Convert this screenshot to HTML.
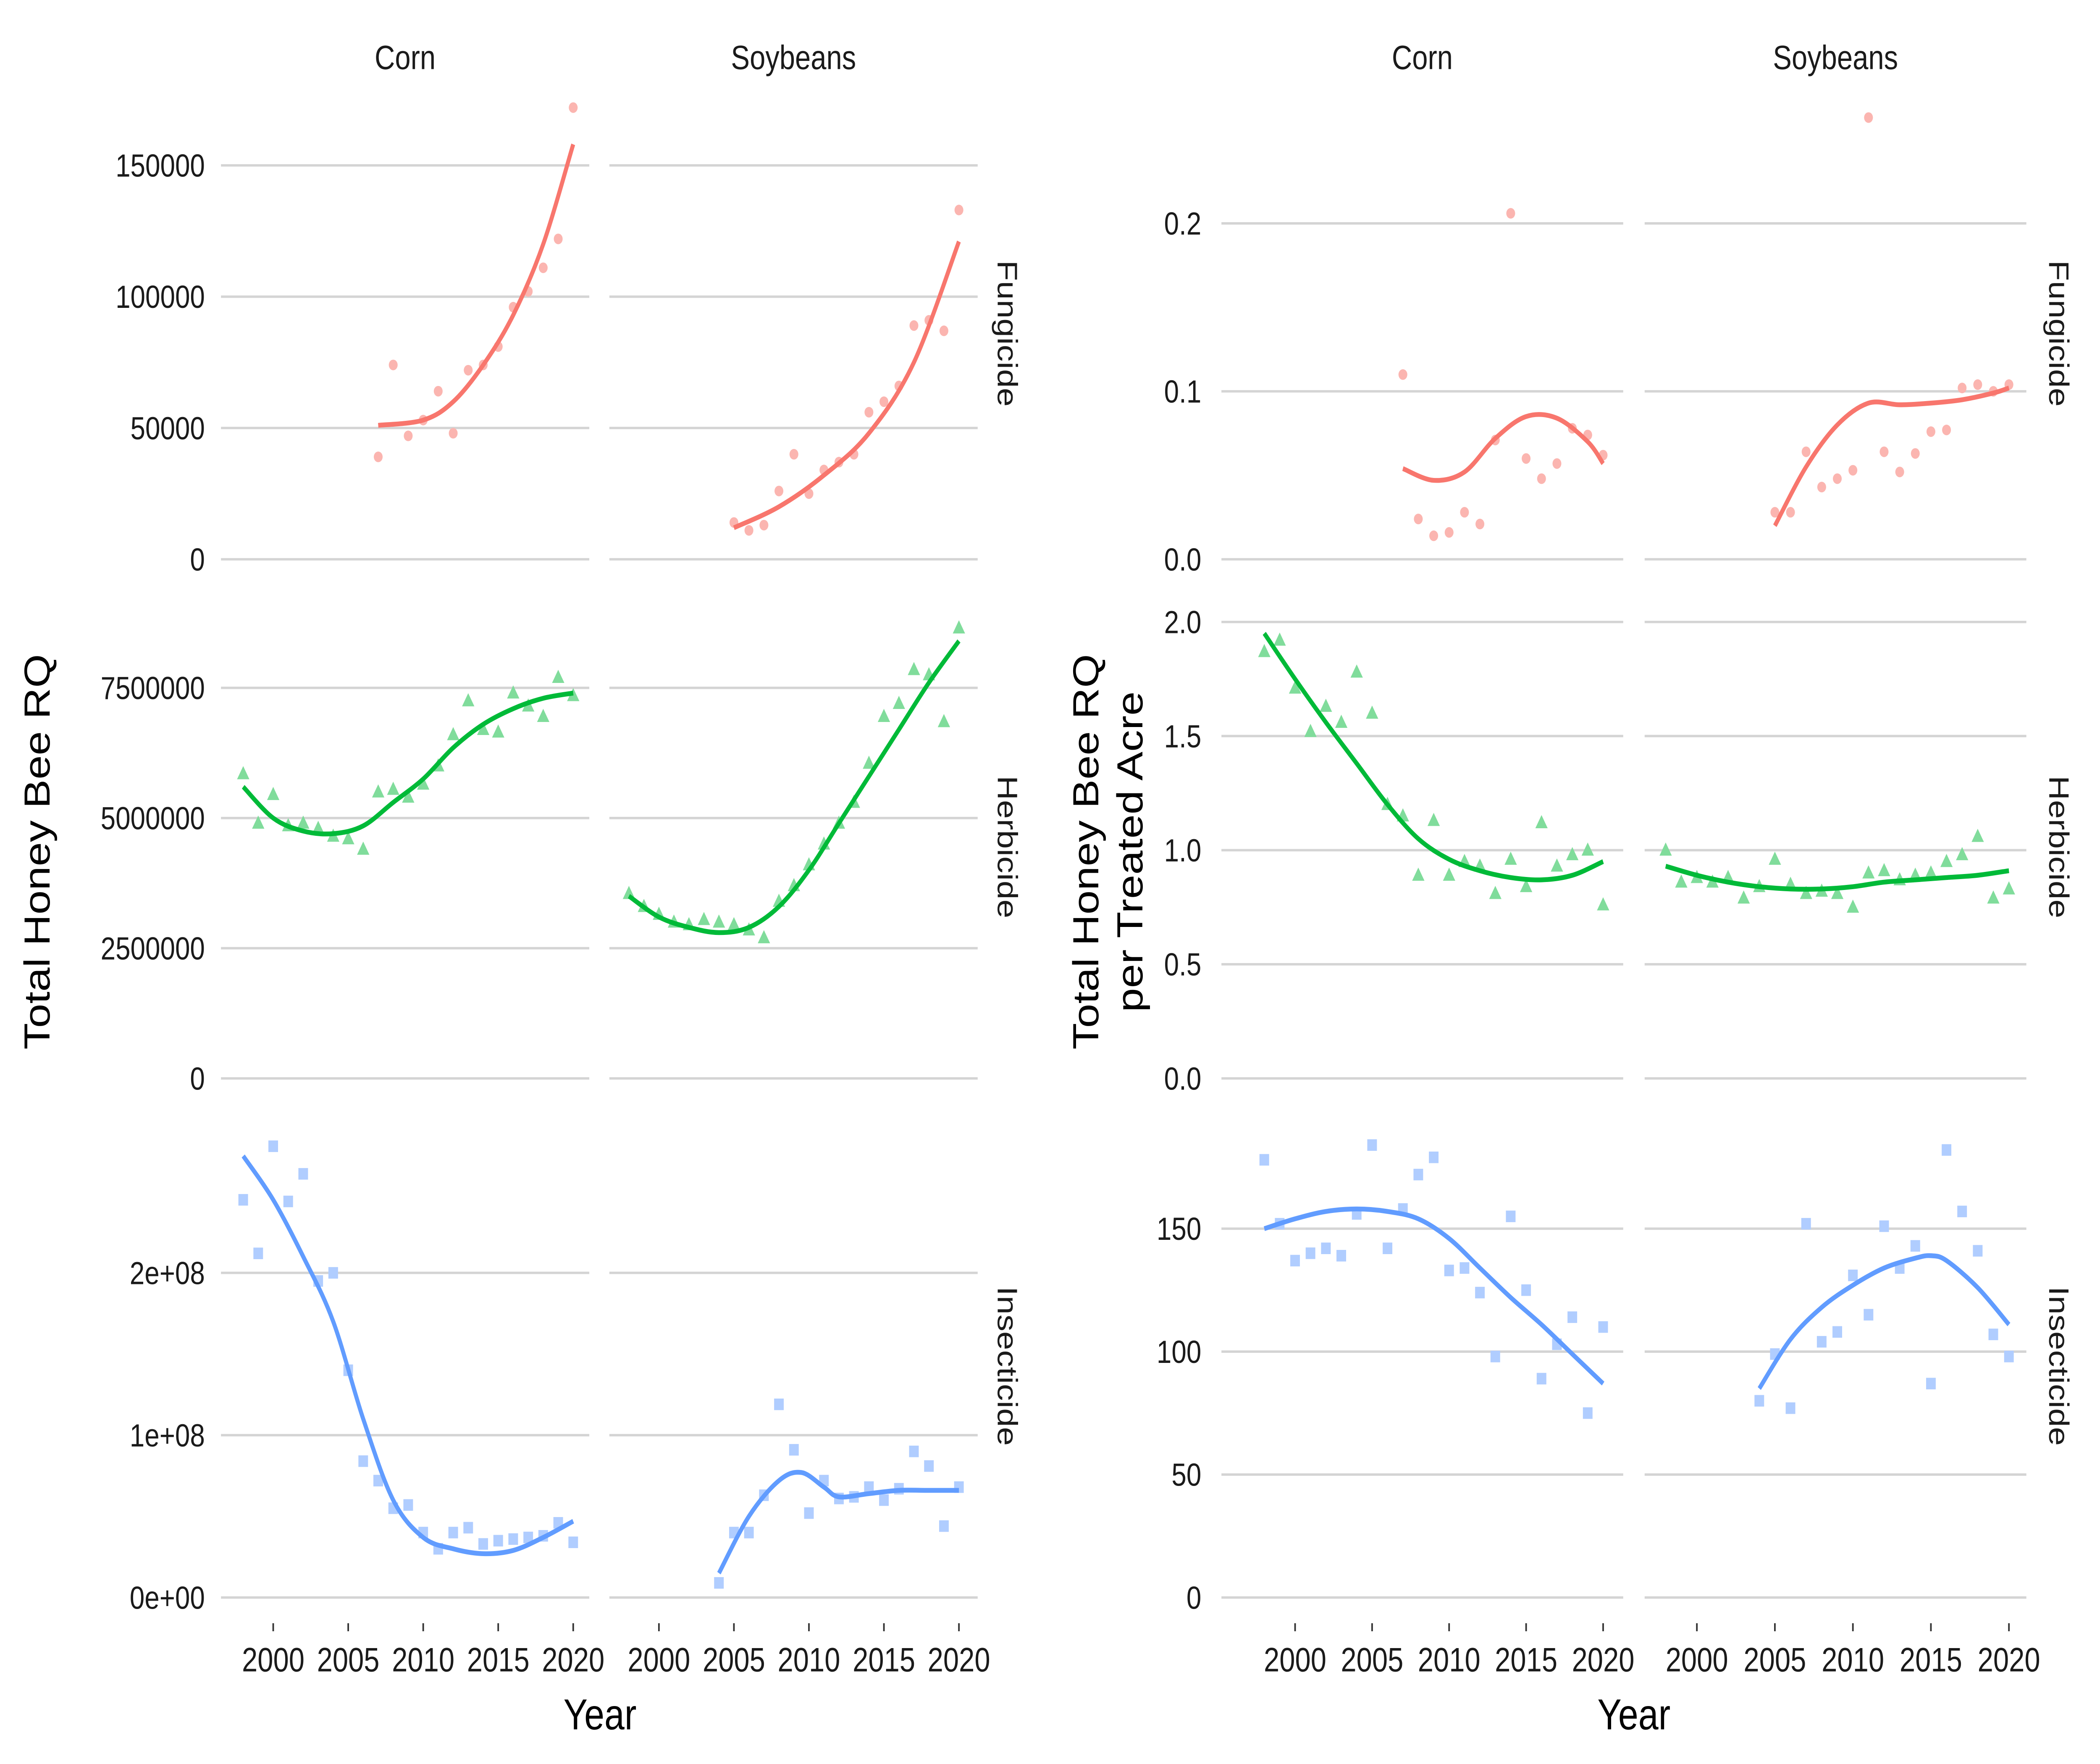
<!DOCTYPE html>
<html><head><meta charset="utf-8"><style>
html,body{margin:0;padding:0;background:#fff;width:100%;height:100%;overflow:hidden;}
svg{display:block;width:100vw;height:100vh;font-family:"Liberation Sans",Arial,sans-serif;}
</style></head><body>
<svg id="chart" viewBox="0 0 1568 1097.6" preserveAspectRatio="none" xmlns="http://www.w3.org/2000/svg"></svg>
<script>
// ---------- DATA ----------
const years = [1998,1999,2000,2001,2002,2003,2004,2005,2006,2007,2008,2009,2010,2011,2012,2013,2014,2015,2016,2017,2018,2019,2020];
const crops = ["Corn","Soybeans"];
const pesticides = ["Fungicide","Herbicide","Insecticide"];
const xTicks = [2000,2005,2010,2015,2020];

// left plot: Total Honey Bee RQ
const L_fung_corn_x = [2007,2008,2009,2010,2011,2012,2013,2014,2015,2016,2017,2018,2019,2020];
const L_fung_corn_y = [39000,74000,47000,53000,64000,48000,72000,74000,81000,96000,102000,111000,122000,172000];
const L_fung_corn_sx = [2007,2010,2012,2014,2016,2018,2020];
const L_fung_corn_sy = [51000,53000,60000,74000,93000,120000,158000];
const L_fung_soy_x = [2005,2006,2007,2008,2009,2010,2011,2012,2013,2014,2015,2016,2017,2018,2019,2020];
const L_fung_soy_y = [14000,11000,13000,26000,40000,25000,34000,37000,40000,56000,60000,66000,89000,91000,87000,133000];
const L_fung_soy_sx = [2005,2008,2011,2014,2017,2020];
const L_fung_soy_sy = [12000,20000,32000,48000,75000,121000];
const L_herb_corn_y = [5.85e6,4.9e6,5.45e6,4.85e6,4.9e6,4.8e6,4.65e6,4.6e6,4.4e6,5.5e6,5.55e6,5.4e6,5.65e6,6.0e6,6.6e6,7.25e6,6.7e6,6.65e6,7.4e6,7.15e6,6.95e6,7.7e6,7.35e6];
const L_herb_corn_sx = [1998,2000,2002,2004,2006,2008,2010,2012,2014,2016,2018,2020];
const L_herb_corn_sy = [5.6e6,5.0e6,4.75e6,4.7e6,4.85e6,5.3e6,5.75e6,6.35e6,6.8e6,7.1e6,7.3e6,7.4e6];
const L_herb_soy_y = [3.55e6,3.3e6,3.15e6,3.0e6,2.95e6,3.05e6,3.0e6,2.95e6,2.85e6,2.7e6,3.4e6,3.7e6,4.1e6,4.5e6,4.9e6,5.3e6,6.05e6,6.95e6,7.2e6,7.85e6,7.75e6,6.85e6,8.65e6];
const L_herb_soy_sx = [1998,2000,2002,2004,2006,2008,2010,2012,2014,2016,2018,2020];
const L_herb_soy_sy = [3.5e6,3.1e6,2.9e6,2.8e6,2.9e6,3.3e6,4.0e6,4.9e6,5.8e6,6.7e6,7.6e6,8.4e6];
const L_ins_corn_y = [2.45e8,2.12e8,2.78e8,2.44e8,2.61e8,1.95e8,2.0e8,1.4e8,0.84e8,0.72e8,0.55e8,0.57e8,0.4e8,0.3e8,0.4e8,0.43e8,0.33e8,0.35e8,0.36e8,0.37e8,0.38e8,0.46e8,0.34e8];
const L_ins_corn_sx = [1998,2000,2002,2004,2006,2008,2010,2012,2014,2016,2018,2020];
const L_ins_corn_sy = [2.72e8,2.45e8,2.1e8,1.7e8,1.1e8,0.6e8,0.37e8,0.3e8,0.27e8,0.29e8,0.37e8,0.47e8];
const L_ins_soy_x = [2004,2005,2006,2007,2008,2009,2010,2011,2012,2013,2014,2015,2016,2017,2018,2019,2020];
const L_ins_soy_y = [0.09e8,0.4e8,0.4e8,0.63e8,1.19e8,0.91e8,0.52e8,0.72e8,0.61e8,0.62e8,0.68e8,0.6e8,0.67e8,0.9e8,0.81e8,0.44e8,0.68e8];
const L_ins_soy_sx = [2004,2006,2008,2009.5,2011,2012,2014,2016,2018,2020];
const L_ins_soy_sy = [0.15e8,0.5e8,0.72e8,0.77e8,0.68e8,0.62e8,0.64e8,0.66e8,0.66e8,0.66e8];

// right plot: per treated acre
const R_fung_corn_y = [0.11,0.024,0.014,0.016,0.028,0.021,0.071,0.206,0.06,0.048,0.057,0.078,0.074,0.062];
const R_fung_corn_sx = [2007,2009,2011,2013,2015,2017,2019,2020];
const R_fung_corn_sy = [0.054,0.047,0.052,0.072,0.085,0.084,0.07,0.057];
const R_fung_soy_y = [0.028,0.028,0.064,0.043,0.048,0.053,0.263,0.064,0.052,0.063,0.076,0.077,0.102,0.104,0.1,0.104];
const R_fung_soy_sx = [2005,2007,2009,2011,2013,2015,2017,2019,2020];
const R_fung_soy_sy = [0.02,0.055,0.08,0.093,0.092,0.093,0.095,0.099,0.102];
const R_herb_corn_y = [1.87,1.92,1.71,1.52,1.63,1.56,1.78,1.6,1.2,1.15,0.89,1.13,0.89,0.95,0.93,0.81,0.96,0.84,1.12,0.93,0.98,1.0,0.76];
const R_herb_corn_sx = [1998,2000,2002,2004,2006,2008,2010,2012,2014,2016,2018,2020];
const R_herb_corn_sy = [1.95,1.75,1.56,1.38,1.2,1.05,0.96,0.91,0.88,0.87,0.89,0.95];
const R_herb_soy_y = [1.0,0.86,0.88,0.86,0.88,0.79,0.84,0.96,0.85,0.81,0.82,0.81,0.75,0.9,0.91,0.87,0.89,0.9,0.95,0.98,1.06,0.79,0.83];
const R_herb_soy_sx = [1998,2000,2002,2004,2006,2008,2010,2012,2014,2016,2018,2020];
const R_herb_soy_sy = [0.93,0.89,0.86,0.84,0.83,0.83,0.84,0.86,0.87,0.88,0.89,0.91];
const R_ins_corn_y = [178,152,137,140,142,139,156,184,142,158,172,179,133,134,124,98,155,125,89,103,114,75,110];
const R_ins_corn_sx = [1998,2000,2002,2004,2006,2008,2010,2012,2014,2016,2018,2020];
const R_ins_corn_sy = [150,154,157,158,157,154,146,134,122,111,99,87];
const R_ins_soy_y = [80,99,77,152,104,108,131,115,151,134,143,87,182,157,141,107,98];
const R_ins_soy_sx = [2004,2006,2008,2010,2012,2014,2015,2016,2018,2020];
const R_ins_soy_sy = [85,105,118,127,134,138,139,137,126,111];

const L_ticks = [[0,50000,100000,150000],[0,2500000,5000000,7500000],[0,1e8,2e8]];
const L_tickLabels = [["0","50000","100000","150000"],["0","2500000","5000000","7500000"],["0e+00","1e+08","2e+08"]];
const R_ticks = [[0,0.1,0.2],[0,0.5,1,1.5,2],[0,50,100,150]];
const R_tickLabels = [["0.0","0.1","0.2"],["0.0","0.5","1.0","1.5","2.0"],["0","50","100","150"]];

// ---------- LAYOUT ----------
const NS="http://www.w3.org/2000/svg";
const svg=document.getElementById('chart');
const colors=["#F8766D","#00BA38","#619CFF"];
const fills=["#FBB5B0","#80DC9B","#B0CDFF"];
const rowsY=[[53,362],[370,684],[692,1008]];
const L_yScale=[{z:348,k:81.7/50000},{z:671,k:81/2500000},{z:994,k:101/1e8}];
const R_yScale=[{z:348,k:104.5/0.1},{z:671,k:142/1},{z:994,k:76.5/50}];
const L_panels=[{x0:165,x1:440,a:204,k:11.2},{x0:455,x1:730,a:492,k:11.2}];
const R_panels=[{x0:912,x1:1212,a:967,k:11.5},{x0:1228,x1:1513,a:1267,k:11.65}];

function el(tag,attrs,parent){const e=document.createElementNS(NS,tag);for(const k in attrs)e.setAttribute(k,attrs[k]);(parent||svg).appendChild(e);return e;}
function txt(s,attrs,parent){const t=el('text',attrs,parent);t.textContent=s;return t;}

function drawPlot(prefix,panels,yScales,ticks,tickLabels,series,labelX,stripX){
  const g=el('g',{});
  
  
  crops.forEach((c,ci)=>{
    const p=panels[ci];
    const s=txt(c,{x:(p.x0+p.x1)/2,y:43,'text-anchor':'middle','font-size':21,fill:'#1a1a1a'},g);
    
    
  });
  pesticides.forEach((pe,ri)=>{
    const [y0,y1]=rowsY[ri];const ys=yScales[ri];
    const sy=(y0+y1)/2;
    const st=txt(pe,{x:stripX,y:sy,'text-anchor':'middle','font-size':21,fill:'#1a1a1a',transform:`rotate(90 ${stripX} ${sy})`},g);
    
    
    ticks[ri].forEach((tv,ti)=>{
      const py=ys.z-tv*ys.k;
      const tl=txt(tickLabels[ri][ti],{x:labelX,y:py+7,'text-anchor':'end','font-size':20,fill:'#1a1a1a'},g);
      
      
      crops.forEach((c,ci)=>{const p=panels[ci];
        const gl=el('line',{x1:p.x0,x2:p.x1,y1:py,y2:py,stroke:'#d4d4d4','stroke-width':1.5},g);
        
        
      });
    });
    crops.forEach((c,ci)=>{
      const p=panels[ci];const sr=series[ri][ci];
      const X=v=>p.a+(v-2000)*p.k;const Y=v=>ys.z-v*ys.k;
      sr.y.forEach((v,i)=>{
        const cx=X(sr.x[i]),cy=Y(v);let m;
        if(ri===0)m=el('circle',{cx:cx,cy:cy,r:3.3,fill:fills[ri]},g);
        else if(ri===1)m=el('polygon',{points:`${cx},${cy-4.8} ${cx-4.6},${cy+3.4} ${cx+4.6},${cy+3.4}`,fill:fills[ri]},g);
        else m=el('rect',{x:cx-3.6,y:cy-3.6,width:7.2,height:7.2,fill:fills[ri]},g);
        
        
      });
      const pts=sr.sx.map((v,i)=>[X(v),Y(sr.sy[i])]);
      let d=`M${pts[0][0]},${pts[0][1]}`;
      for(let i=0;i<pts.length-1;i++){const p0=pts[Math.max(0,i-1)],p1=pts[i],p2=pts[i+1],p3=pts[Math.min(pts.length-1,i+2)];
        d+=` C${p1[0]+(p2[0]-p0[0])/6},${p1[1]+(p2[1]-p0[1])/6} ${p2[0]-(p3[0]-p1[0])/6},${p2[1]-(p3[1]-p1[1])/6} ${p2[0]},${p2[1]}`;}
      const ln=el('path',{d:d,fill:'none',stroke:colors[ri],'stroke-width':3},g);
      
      
    });
  });
  crops.forEach((c,ci)=>{const p=panels[ci];
    xTicks.forEach(t=>{const x=p.a+(t-2000)*p.k;
      el('line',{x1:x,x2:x,y1:1010,y2:1015,stroke:'#333','stroke-width':1.2},g);
      const xl=txt(String(t),{x:x,y:1040,'text-anchor':'middle','font-size':21,fill:'#1a1a1a'},g);
      
      
    });
  });
}

drawPlot('left',L_panels,L_yScale,L_ticks,L_tickLabels,[
  [{x:L_fung_corn_x,y:L_fung_corn_y,sx:L_fung_corn_sx,sy:L_fung_corn_sy},{x:L_fung_soy_x,y:L_fung_soy_y,sx:L_fung_soy_sx,sy:L_fung_soy_sy}],
  [{x:years,y:L_herb_corn_y,sx:L_herb_corn_sx,sy:L_herb_corn_sy},{x:years,y:L_herb_soy_y,sx:L_herb_soy_sx,sy:L_herb_soy_sy}],
  [{x:years,y:L_ins_corn_y,sx:L_ins_corn_sx,sy:L_ins_corn_sy},{x:L_ins_soy_x,y:L_ins_soy_y,sx:L_ins_soy_sx,sy:L_ins_soy_sy}]
],153,745);
drawPlot('right',R_panels,R_yScale,R_ticks,R_tickLabels,[
  [{x:L_fung_corn_x,y:R_fung_corn_y,sx:R_fung_corn_sx,sy:R_fung_corn_sy},{x:L_fung_soy_x,y:R_fung_soy_y,sx:R_fung_soy_sx,sy:R_fung_soy_sy}],
  [{x:years,y:R_herb_corn_y,sx:R_herb_corn_sx,sy:R_herb_corn_sy},{x:years,y:R_herb_soy_y,sx:R_herb_soy_sx,sy:R_herb_soy_sy}],
  [{x:years,y:R_ins_corn_y,sx:R_ins_corn_sx,sy:R_ins_corn_sy},{x:L_ins_soy_x,y:R_ins_soy_y,sx:R_ins_soy_sx,sy:R_ins_soy_sy}]
],897,1530);

let t;
t=txt('Year',{x:448,y:1076,'text-anchor':'middle','font-size':27,fill:'#000'});


t=txt('Year',{x:1220,y:1076,'text-anchor':'middle','font-size':27,fill:'#000'});


t=txt('Total Honey Bee RQ',{x:37,y:530,'text-anchor':'middle','font-size':27,fill:'#000',transform:'rotate(-90 37 530)'});


t=txt('Total Honey Bee RQ',{x:820,y:530,'text-anchor':'middle','font-size':27,fill:'#000',transform:'rotate(-90 820 530)'});


t=txt('per Treated Acre',{x:853,y:530,'text-anchor':'middle','font-size':27,fill:'#000',transform:'rotate(-90 853 530)'});


</script>
</body></html>
